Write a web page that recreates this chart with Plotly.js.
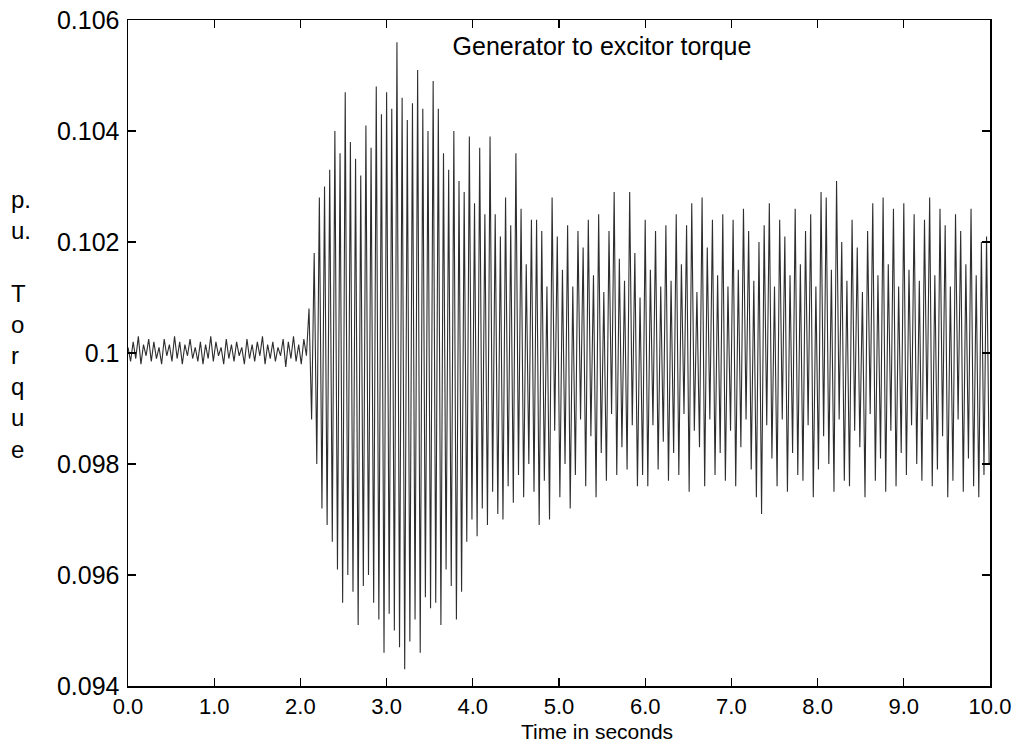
<!DOCTYPE html>
<html>
<head>
<meta charset="utf-8">
<script src="https://cdn.plot.ly/plotly-3.0.1.min.js"></script>
<style>html,body{margin:0;padding:0;background:#fff;}#chart{width:1021px;height:743px;}</style>
</head>
<body>
<div id="chart"></div>
<script>
// Time (s) before the disturbance
const preTime = [
0.00,0.03,0.06,0.09,0.12,0.15,0.18,0.21,0.24,0.27,
0.30,0.33,0.36,0.39,0.42,0.45,0.48,0.51,0.54,0.57,
0.60,0.63,0.66,0.69,0.72,0.75,0.78,0.81,0.84,0.87,
0.90,0.93,0.96,0.99,1.02,1.05,1.08,1.11,1.14,1.17,
1.20,1.23,1.26,1.29,1.32,1.35,1.38,1.41,1.44,1.47,
1.50,1.53,1.56,1.59,1.62,1.65,1.68,1.71,1.74,1.77,
1.80,1.83,1.86,1.89,1.92,1.95,1.98,2.01,2.04,2.07];
// Torque (p.u.) before the disturbance
const preTorque = [
0.10010,0.09985,0.10020,0.09990,0.10030,0.09980,0.10015,0.09995,0.10025,0.09985,
0.10020,0.09990,0.10010,0.09980,0.10025,0.09995,0.10015,0.09985,0.10030,0.09990,
0.10020,0.09980,0.10015,0.09995,0.10025,0.09990,0.10010,0.09985,0.10020,0.09980,
0.10015,0.09990,0.10030,0.09985,0.10020,0.09995,0.10010,0.09980,0.10025,0.09990,
0.10015,0.09985,0.10020,0.09995,0.10010,0.09980,0.10025,0.09990,0.10015,0.09985,
0.10020,0.09995,0.10030,0.09980,0.10015,0.09990,0.10020,0.09985,0.10010,0.09995,
0.10025,0.09975,0.10020,0.09990,0.10030,0.09985,0.10015,0.09980,0.10025,0.09995];
// Time (s) after the disturbance
const postTime = [
2.10,2.13,2.16,2.19,2.22,2.25,2.28,2.31,2.34,2.37,
2.40,2.43,2.46,2.49,2.52,2.55,2.58,2.61,2.64,2.67,
2.70,2.73,2.76,2.79,2.82,2.85,2.88,2.91,2.94,2.97,
3.00,3.03,3.06,3.09,3.12,3.15,3.18,3.21,3.24,3.27,
3.30,3.33,3.36,3.39,3.42,3.45,3.48,3.51,3.54,3.57,
3.60,3.63,3.66,3.69,3.72,3.75,3.78,3.81,3.84,3.87,
3.90,3.93,3.96,3.99,4.02,4.05,4.08,4.11,4.14,4.17,
4.20,4.23,4.26,4.29,4.32,4.35,4.38,4.41,4.44,4.47,
4.50,4.53,4.56,4.59,4.62,4.65,4.68,4.71,4.74,4.77,
4.80,4.83,4.86,4.89,4.92,4.95,4.98,5.01,5.04,5.07,
5.10,5.13,5.16,5.19,5.22,5.25,5.28,5.31,5.34,5.37,
5.40,5.43,5.46,5.49,5.52,5.55,5.58,5.61,5.64,5.67,
5.70,5.73,5.76,5.79,5.82,5.85,5.88,5.91,5.94,5.97,
6.00,6.03,6.06,6.09,6.12,6.15,6.18,6.21,6.24,6.27,
6.30,6.33,6.36,6.39,6.42,6.45,6.48,6.51,6.54,6.57,
6.60,6.63,6.66,6.69,6.72,6.75,6.78,6.81,6.84,6.87,
6.90,6.93,6.96,6.99,7.02,7.05,7.08,7.11,7.14,7.17,
7.20,7.23,7.26,7.29,7.32,7.35,7.38,7.41,7.44,7.47,
7.50,7.53,7.56,7.59,7.62,7.65,7.68,7.71,7.74,7.77,
7.80,7.83,7.86,7.89,7.92,7.95,7.98,8.01,8.04,8.07,
8.10,8.13,8.16,8.19,8.22,8.25,8.28,8.31,8.34,8.37,
8.40,8.43,8.46,8.49,8.52,8.55,8.58,8.61,8.64,8.67,
8.70,8.73,8.76,8.79,8.82,8.85,8.88,8.91,8.94,8.97,
9.00,9.03,9.06,9.09,9.12,9.15,9.18,9.21,9.24,9.27,
9.30,9.33,9.36,9.39,9.42,9.45,9.48,9.51,9.54,9.57,
9.60,9.63,9.66,9.69,9.72,9.75,9.78,9.81,9.84,9.87,
9.90,9.93,9.96,9.99];
// Torque (p.u.) after the disturbance
const postTorque = [
0.1008,0.0988,0.1018,0.0980,0.1028,0.0972,0.1030,0.0969,0.1033,0.0966,
0.1040,0.0961,0.1036,0.0955,0.1047,0.0960,0.1038,0.0957,0.1035,0.0951,
0.1032,0.0958,0.1041,0.0960,0.1037,0.0955,0.1048,0.0952,0.1043,0.0946,
0.1047,0.0953,0.1044,0.0950,0.1056,0.0947,0.1046,0.0943,0.1042,0.0948,
0.1045,0.0952,0.1051,0.0946,0.1044,0.0956,0.1040,0.0954,0.1049,0.0955,
0.1044,0.0951,0.1036,0.0961,0.1033,0.0958,0.1040,0.0952,0.1031,0.0957,
0.1029,0.0966,0.1039,0.0970,0.1027,0.0967,0.1037,0.0972,0.1025,0.0969,
0.1039,0.0975,0.1025,0.0971,0.1021,0.0970,0.1028,0.0976,0.1023,0.0973,
0.1036,0.0978,0.1026,0.0974,0.1016,0.0980,0.1024,0.0975,0.1024,0.0969,
0.1022,0.0977,0.1012,0.0970,0.1028,0.0986,0.1021,0.0974,0.1015,0.0980,
0.1023,0.0972,0.1012,0.0978,0.1022,0.0988,0.1019,0.0976,0.1024,0.0985,
0.1014,0.0974,0.1025,0.0982,0.1011,0.0977,0.1022,0.0989,0.1029,0.0978,
0.1017,0.0983,0.1013,0.0979,0.1029,0.0987,0.1018,0.0976,0.1010,0.0978,
0.1024,0.0976,0.1015,0.0987,0.1022,0.0979,0.1012,0.0984,0.1023,0.0977,
0.1013,0.0982,0.1025,0.0978,0.1016,0.0989,0.1023,0.0975,0.1027,0.0986,
0.1011,0.0983,0.1028,0.0976,0.1019,0.0988,0.1024,0.0978,0.1014,0.0982,
0.1025,0.0977,0.1012,0.0986,0.1024,0.0976,0.1015,0.0983,0.1026,0.0988,
0.1022,0.0979,0.1013,0.0974,0.1020,0.0971,0.1023,0.0987,0.1027,0.0981,
0.1012,0.0976,0.1024,0.0988,0.1021,0.0975,0.1014,0.0982,0.1026,0.0978,
0.1016,0.0977,0.1022,0.0987,0.1025,0.0974,0.1012,0.0979,0.1029,0.0985,
0.1028,0.0980,0.1015,0.0975,0.1031,0.0988,0.1020,0.0977,0.1013,0.0976,
0.1024,0.0986,0.1019,0.0983,0.1011,0.0974,0.1022,0.0989,0.1027,0.0977,
0.1014,0.0981,0.1028,0.0975,0.1016,0.0986,0.1026,0.0976,0.1012,0.0982,
0.1027,0.0978,0.1015,0.0987,0.1025,0.0980,0.1013,0.0977,0.1024,0.0988,
0.1028,0.0976,0.1014,0.0979,0.1026,0.0985,0.1023,0.0974,0.1012,0.0977,
0.1025,0.0988,0.1022,0.0975,0.1016,0.0981,0.1026,0.0976,0.1014,0.0974,
0.1020,0.0978,0.1021,0.0980];

const xTickVals = [0,1,2,3,4,5,6,7,8,9,10];
const xTickText = ['0.0','1.0','2.0','3.0','4.0','5.0','6.0','7.0','8.0','9.0','10.0'];
const yTickVals = [0.094,0.096,0.098,0.100,0.102,0.104,0.106];
const yTickText = ['0.094','0.096','0.098','0.1','0.102','0.104','0.106'];

const FONT = 'Liberation Sans, Arial, Helvetica, sans-serif';

const trace = {
  x: preTime.concat(postTime),
  y: preTorque.concat(postTorque),
  type: 'scatter',
  mode: 'lines',
  line: {color: '#2e2e2e', width: 1.1},
  hoverinfo: 'x+y',
  showlegend: false
};

const axisCommon = {
  showline: true, linecolor: '#000', linewidth: 1.5,
  mirror: 'ticks', ticks: 'inside', ticklen: 8, tickwidth: 1.2, tickcolor: '#000',
  showgrid: false, zeroline: false
};

const layout = {
  width: 1021, height: 743,
  paper_bgcolor: '#fff', plot_bgcolor: '#fff',
  margin: {l: 128, r: 31, t: 20, b: 57},
  title: {
    text: 'Generator to excitor torque',
    font: {family: FONT, size: 25, color: '#000'},
    xref: 'container', x: 602/1021, xanchor: 'center',
    yref: 'container', y: 1 - 46/743, yanchor: 'middle'
  },
  xaxis: Object.assign({}, axisCommon, {
    range: [0, 10], tickvals: xTickVals, ticktext: xTickText,
    tickfont: {family: FONT, size: 22, color: '#000'},
    ticklabelstandoff: 0,
    title: {text: ''}
  }),
  yaxis: Object.assign({}, axisCommon, {
    range: [0.094, 0.106], tickvals: yTickVals, ticktext: yTickText,
    tickfont: {family: FONT, size: 25, color: '#000'},
    ticklabelstandoff: 2,
    title: {text: ''}
  }),
  annotations: [
    {
      text: 'p.<br>u.<br><br>T<br>o<br>r<br>q<br>u<br>e',
      xref: 'paper', yref: 'paper', x: (9 - 128) / 862, y: (686 - 325) / 666,
      xanchor: 'left', yanchor: 'middle', align: 'left', showarrow: false,
      font: {family: FONT, size: 24, color: '#000'}
    },
    {
      text: 'Time in seconds',
      xref: 'paper', yref: 'paper', x: (597 - 128) / 862, y: (686 - 732) / 666,
      xanchor: 'center', yanchor: 'middle', showarrow: false,
      font: {family: FONT, size: 21, color: '#000'}
    }
  ]
};

Plotly.newPlot('chart', [trace], layout, {displayModeBar: false, staticPlot: true});
</script>
</body>
</html>
